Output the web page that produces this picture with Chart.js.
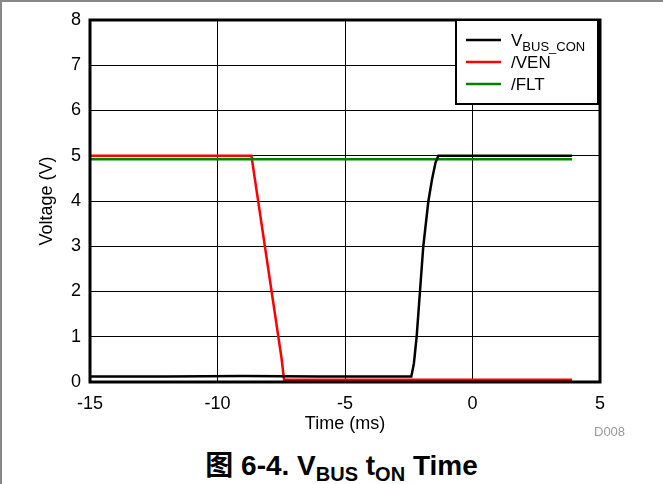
<!DOCTYPE html>
<html>
<head>
<meta charset="utf-8">
<script src="https://cdn.jsdelivr.net/npm/chart.js@4"></script>
<style>
  body { margin: 0; background: #fff; }
  #wrap { position: relative; width: 663px; height: 484px; overflow: hidden; }
  #box { position: absolute; left: 0; top: 0; width: 663px; height: 440px; }
  #frame { position: absolute; left: 0; top: 0; width: 663px; height: 484px;
           border-top: 2px solid #888; border-left: 2px solid #888; box-sizing: border-box; pointer-events: none; }
  #title { position: absolute; left: 0; width: 683px; top: 443px; text-align: center;
           font: bold 28px "Liberation Sans", Arial, "Noto Sans CJK SC", sans-serif; color: #000; }
  #title sub { font-size: 20px; vertical-align: -6px; line-height: 0; }
  #code { position: absolute; left: 594px; top: 424px; font: 13px "Liberation Sans", Arial, sans-serif; color: #999; }
</style>
</head>
<body>
<div id="wrap">
  <div id="box"><canvas id="tonChart"></canvas></div>
  <div id="title"><span style="font-family:'Noto Sans CJK SC'">图</span> 6-4. V<sub>BUS</sub> t<sub>ON</sub> Time</div>
  <div id="code">D008</div>
  <div id="frame"></div>
</div>
<script>
// Zaman ekseni (ms) ve gerilim değerleri (V)
const vbusTime = [-15, -12, -9, -6, -3, -2.4, -2.3, -2.19, -2.06, -1.93, -1.73, -1.58, -1.45, -1.34, 0, 3.9];
const vbusVolt = [0.12, 0.12, 0.13, 0.12, 0.12, 0.12, 0.4, 1.0, 2.0, 3.0, 4.0, 4.5, 4.85, 5.0, 5.0, 5.0];

const venTime = [-15, -8.67, -7.49, -7.39, -3, 3.9];
const venVolt = [5.0, 5.0, 0.53, 0.05, 0.05, 0.05];

const fltTime = [-15, 3.9];
const fltVolt = [4.92, 4.92];

const xTicks = [-15, -10, -5, 0, 5];
const yTicks = [0, 1, 2, 3, 4, 5, 6, 7, 8];

const toPoints = (xs, ys) => xs.map((x, i) => ({ x: x, y: ys[i] }));

// Grafik alanının etrafına kalın çerçeve
const frameBorder = {
    id: 'frameBorder',
    afterDatasetsDraw(chart) {
        const { ctx, chartArea: a } = chart;
        ctx.save();
        ctx.strokeStyle = '#000';
        ctx.lineWidth = 3;
        ctx.strokeRect(a.left, a.top, a.right - a.left, a.bottom - a.top);
        ctx.restore();
    }
};

// Alt simgeli etiketler için elle çizilen lejant
const subLegend = {
    id: 'subLegend',
    afterDraw(chart) {
        const { ctx, chartArea: a } = chart;
        const right = a.right - 2, left = a.right - 144, top = a.top, bottom = a.top + 84;
        ctx.save();
        ctx.fillStyle = '#fff';
        ctx.fillRect(left, top, right - left, bottom - top);
        ctx.strokeStyle = '#000';
        ctx.lineWidth = 2;
        ctx.strokeRect(left, top, right - left, bottom - top);
        const rows = [
            { main: 'V', sub: 'BUS_CON' },
            { main: '/VEN', sub: '' },
            { main: '/FLT', sub: '' }
        ];
        rows.forEach((r, i) => {
            const ds = chart.data.datasets[i];
            const y = top + 20 + i * 22;
            ctx.strokeStyle = ds.borderColor;
            ctx.lineWidth = 2.5;
            ctx.beginPath();
            ctx.moveTo(left + 10, y);
            ctx.lineTo(left + 45, y);
            ctx.stroke();
            ctx.fillStyle = '#000';
            ctx.textBaseline = 'alphabetic';
            ctx.font = '17px "Liberation Sans", Arial, sans-serif';
            ctx.fillText(r.main, left + 55, y + 6);
            if (r.sub) {
                const w = ctx.measureText(r.main).width;
                ctx.font = '13px "Liberation Sans", Arial, sans-serif';
                ctx.fillText(r.sub, left + 55 + w, y + 11);
            }
        });
        ctx.restore();
    }
};

const tickFont = { family: '"Liberation Sans", Arial, sans-serif', size: 18 };

new Chart(document.getElementById('tonChart'), {
    type: 'line',
    data: {
        datasets: [
            { label: 'VBUS_CON', data: toPoints(vbusTime, vbusVolt), borderColor: '#000000', order: 0 },
            { label: '/VEN', data: toPoints(venTime, venVolt), borderColor: '#ff0000', order: 2 },
            { label: '/FLT', data: toPoints(fltTime, fltVolt), borderColor: '#008000', order: 1 }
        ]
    },
    options: {
        responsive: true,
        maintainAspectRatio: false,
        animation: false,
        datasets: { line: { borderWidth: 2.5, pointRadius: 0, tension: 0, fill: false } },
        layout: { padding: { left: 0, top: 20, right: 63, bottom: 0 } },
        plugins: { legend: { display: false }, tooltip: { enabled: false } },
        scales: {
            x: {
                type: 'linear',
                min: -15, max: 5,
                afterBuildTicks: s => { s.ticks = xTicks.map(v => ({ value: v })); },
                afterFit: s => { s.height = 58; },
                grid: { color: '#000', lineWidth: 1, drawTicks: false },
                border: { display: false },
                ticks: { color: '#000', font: tickFont, padding: 11, maxRotation: 0 },
                title: { display: true, text: 'Time (ms)', color: '#000', font: tickFont, padding: { top: 0, bottom: 5 } }
            },
            y: {
                min: 0, max: 8,
                afterBuildTicks: s => { s.ticks = yTicks.map(v => ({ value: v })); },
                afterFit: s => { s.width = 90; },
                grid: { color: '#000', lineWidth: 1, drawTicks: false },
                border: { display: false },
                ticks: { color: '#000', font: tickFont, padding: 9 },
                title: { display: true, text: 'Voltage (V)', color: '#000', font: tickFont, padding: { top: 36, bottom: 0 } }
            }
        }
    },
    plugins: [frameBorder, subLegend]
});
</script>
</body>
</html>
